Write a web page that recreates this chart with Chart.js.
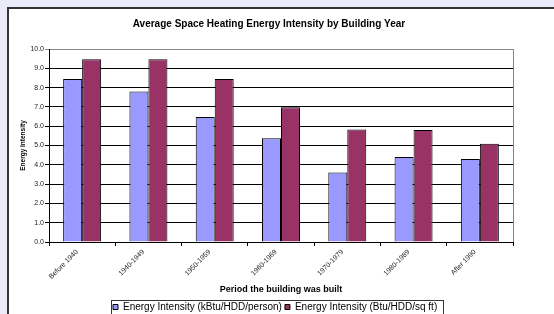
<!DOCTYPE html>
<html>
<head>
    <meta charset="UTF-8">
    <title>Average Space Heating Energy Intensity by Building Year</title>
    <style>
        html, body {
            margin: 0;
            padding: 0;
            width: 554px;
            height: 314px;
            overflow: hidden;
            background: #eaeaf8;
        }

        #panel {
            position: absolute;
            left: 7px;
            top: 7px;
            width: 620px;
            height: 400px;
            border: 2px solid #333333;
            background: #ffffff;
        }

        #wrap {
            position: absolute;
            left: 0;
            top: 0;
            width: 554px;
            height: 322px;
        }
    </style>
    <script src="https://cdn.jsdelivr.net/npm/chart.js@4.4.1/dist/chart.umd.min.js"></script>
</head>
<body>
<div id="panel"></div>
<div id="wrap"><canvas id="bar-chart"></canvas></div>
<script>
    // 데이터
    var periods = ['Before 1940', '1940-1949', '1950-1959', '1960-1969', '1970-1979', '1980-1989', 'After 1990'];
    var perPerson = [8.45, 7.8, 6.48, 5.37, 3.6, 4.4, 4.3];
    var perSqFt = [9.47, 9.47, 8.45, 6.98, 5.83, 5.8, 5.09];
    var yTicks = ['0.0', '1.0', '2.0', '3.0', '4.0', '5.0', '6.0', '7.0', '8.0', '9.0', '10.0'];

    var FONT = "'Liberation Sans', Arial, sans-serif";

    // 제목/범례 위치 조정 + 범례 테두리, 플롯 영역 오른쪽 테두리
    var framePlugin = {
        id: 'frame',
        afterLayout: function(chart) {
            var t = chart.titleBlock;
            if (t) {
                var d = 269 - (t.left + t.right) / 2;
                t.left += d;
                t.right += d;
            }
            var lg = chart.legend;
            if (lg && lg.lineWidths) {
                var pad = lg.options.labels.padding;
                var start = (lg.left + pad + lg.right - lg.lineWidths[0]) / 2;
                var s = 113 - start;
                lg.left += s;
                lg.right += s;
            }
        },
        beforeDatasetsDraw: function(chart) {
            var a = chart.chartArea;
            var ctx = chart.ctx;
            ctx.save();
            ctx.strokeStyle = '#888888';
            ctx.lineWidth = 1;
            ctx.beginPath();
            ctx.moveTo(Math.round(a.right) + 0.5, a.top);
            ctx.lineTo(Math.round(a.right) + 0.5, a.bottom);
            ctx.stroke();
            ctx.restore();
        },
        afterDraw: function(chart) {
            var hb = chart.legend.legendHitBoxes;
            if (!hb || !hb.length) return;
            var last = hb[hb.length - 1];
            var x1 = Math.round(hb[0].left - 2) + 0.5;
            var x2 = Math.round(last.left + last.width + 6) + 0.5;
            var y1 = Math.round(hb[0].top - 2) + 0.5;
            var ctx = chart.ctx;
            ctx.save();
            ctx.strokeStyle = '#333333';
            ctx.lineWidth = 1;
            ctx.strokeRect(x1, y1, x2 - x1, 40);
            ctx.restore();
        }
    };

    var ctx = document.getElementById('bar-chart').getContext('2d');
    var chart = new Chart(ctx, {
        type: 'bar',
        data: {
            labels: periods,
            datasets: [{
                label: 'Energy Intensity (kBtu/HDD/person)',
                data: perPerson,
                backgroundColor: '#9999ff',
                borderColor: '#000000',
                borderWidth: 1,
                categoryPercentage: 0.573,
                barPercentage: 1.0
            }, {
                label: 'Energy Intensity (Btu/HDD/sq ft)',
                data: perSqFt,
                backgroundColor: '#993366',
                borderColor: '#000000',
                borderWidth: 1,
                categoryPercentage: 0.573,
                barPercentage: 1.0
            }]
        },
        options: {
            responsive: true,
            maintainAspectRatio: false,
            animation: false,
            layout: {
                padding: { left: 0, right: 41, top: 0, bottom: 0 }
            },
            plugins: {
                title: {
                    display: true,
                    text: 'Average Space Heating Energy Intensity by Building Year',
                    color: '#000000',
                    font: { family: FONT, size: 10, weight: 'bold' },
                    padding: { top: 18, bottom: 19 }
                },
                legend: {
                    position: 'bottom',
                    labels: {
                        boxWidth: 5,
                        boxHeight: 5,
                        padding: 3,
                        color: '#000000',
                        font: { family: FONT, size: 10 }
                    }
                },
                tooltip: { enabled: false }
            },
            scales: {
                x: {
                    afterFit: function(scale) { scale.height = 57; },
                    grid: {
                        offset: true,
                        drawOnChartArea: false,
                        drawTicks: true,
                        tickLength: 4,
                        color: '#000000'
                    },
                    border: { color: '#000000', width: 1 },
                    ticks: {
                        autoSkip: false,
                        minRotation: 45,
                        maxRotation: 45,
                        padding: 2,
                        labelOffset: -5,
                        color: '#222222',
                        font: { family: FONT, size: 7 }
                    },
                    title: {
                        display: true,
                        text: 'Period the building was built',
                        color: '#000000',
                        font: { family: FONT, size: 9, weight: 'bold' },
                        padding: { top: 0, bottom: 3.6 }
                    }
                },
                y: {
                    min: 0,
                    max: 10,
                    afterFit: function(scale) { scale.width = 49; },
                    grid: {
                        color: function(c) {
                            return c.tick && c.tick.value === 10 ? '#888888' : '#000000';
                        },
                        tickLength: 4,
                        lineWidth: 1
                    },
                    border: { color: '#000000', width: 1 },
                    ticks: {
                        stepSize: 1,
                        padding: 1,
                        color: '#222222',
                        font: { family: FONT, size: 7 },
                        callback: function(value, index) {
                            return yTicks[index];
                        }
                    },
                    title: {
                        display: true,
                        text: 'Energy Intensity',
                        color: '#000000',
                        font: { family: FONT, size: 6.5, weight: 'bold' },
                        padding: { top: 19.1, bottom: 0 }
                    }
                }
            }
        },
        plugins: [framePlugin]
    });
</script>
</body>
</html>
